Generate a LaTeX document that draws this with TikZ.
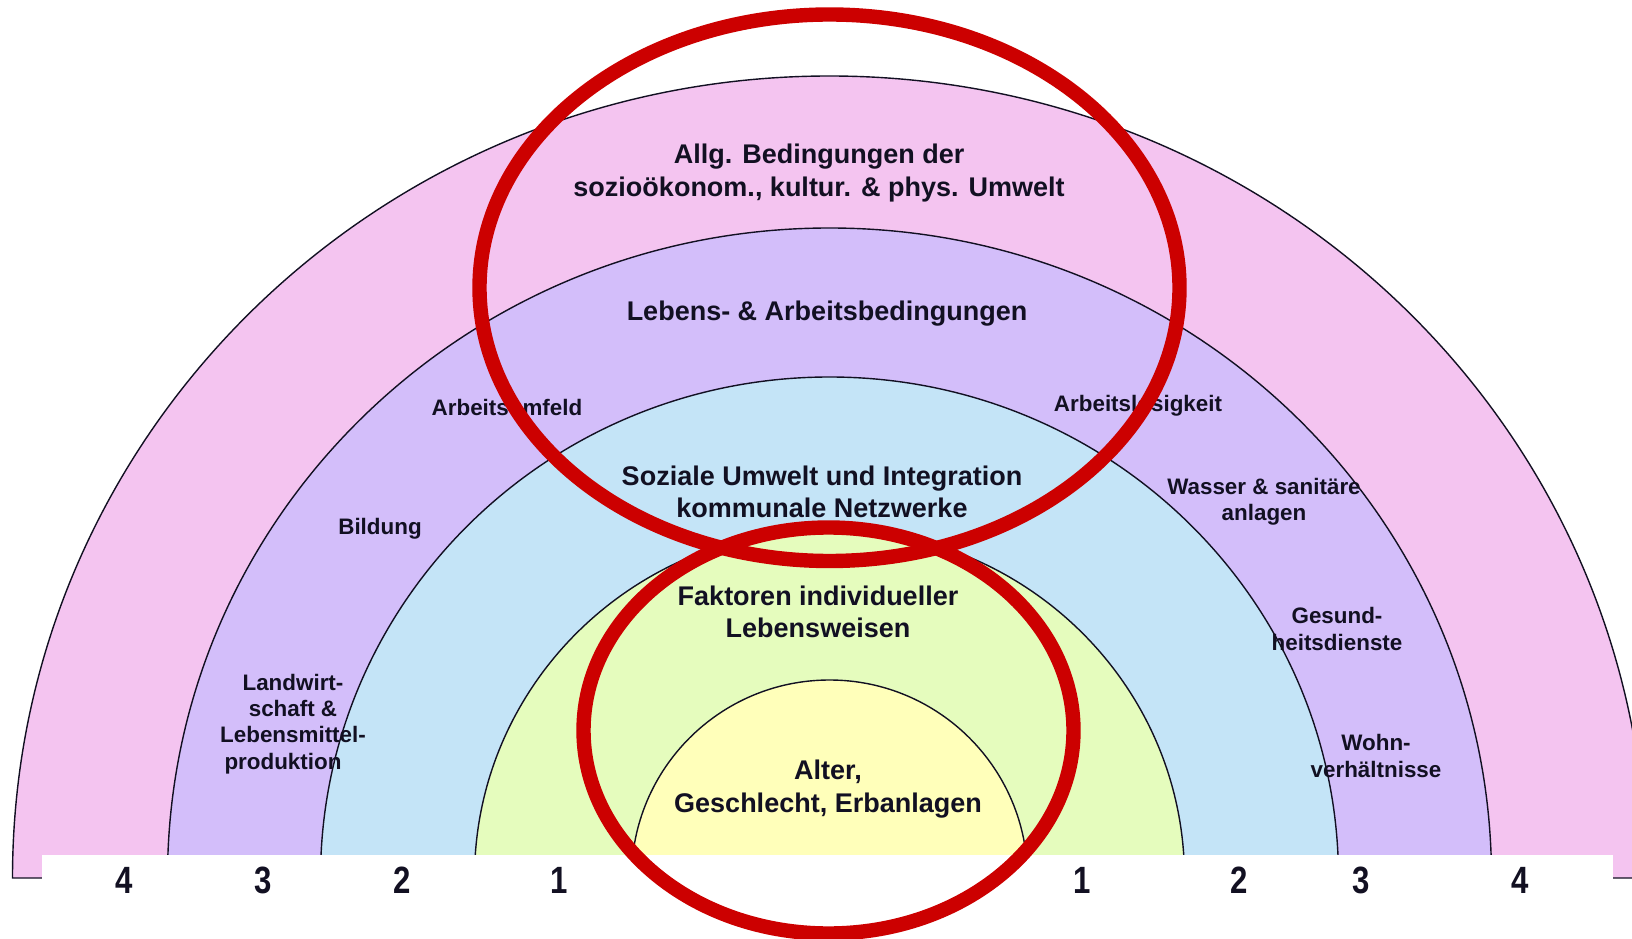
\documentclass[tikz,border=0pt]{standalone}
\usepackage{fontspec}
\setmainfont{Liberation Sans}
\newfontfamily\narrowfont[FakeStretch=0.82]{Liberation Sans}
\usepackage{xcolor}
\usepackage{tikz}

\definecolor{ringPink}{RGB}{244,196,240}
\definecolor{ringLila}{RGB}{211,190,250}
\definecolor{ringBlue}{RGB}{196,228,247}
\definecolor{ringGreen}{RGB}{229,252,189}
\definecolor{ringYellow}{RGB}{255,255,186}
\definecolor{markRed}{RGB}{204,0,0}
\definecolor{txtDark}{RGB}{18,16,34}

\begin{document}
\begin{tikzpicture}[
  x=0.5pt, y=0.5pt,
  % ring halves
  ring/.style={draw=txtDark, line width=0.7pt},
  % red highlight ellipses
  redmark/.style={draw=markRed, line width=7.2pt},
  % labels
  bigtxt/.style={font=\fontsize{13.5}{16.2}\selectfont\bfseries,
                 text=txtDark, align=center, inner sep=0pt},
  smalltxt/.style={font=\fontsize{11.2}{13.2}\selectfont\bfseries,
                   text=txtDark, align=center, inner sep=0pt},
  numtxt/.style={font=\narrowfont\fontsize{19}{19}\selectfont\bfseries,
                 text=txtDark, inner sep=0pt},
]

% ── Canvas ───────────────────────────────────────────────────────────────
\useasboundingbox (0,0) rectangle (1632,938);
\clip (0,0) rectangle (1632,938);
\fill[white] (0,0) rectangle (1632,938);

% ── Centre of the rings ──────────────────────────────────────────────────
\def\cx{829.5}
\def\cy{60}

% ── Rings, outside in ────────────────────────────────────────────────────
\filldraw[ring, fill=ringPink]   (\cx-817,\cy) arc[start angle=180, end angle=0, x radius=817, y radius=802] -- cycle;
\filldraw[ring, fill=ringLila]   (\cx-662,\cy) arc[start angle=180, end angle=0, x radius=662, y radius=650] -- cycle;
\filldraw[ring, fill=ringBlue]   (\cx-509,\cy) arc[start angle=180, end angle=0, x radius=509, y radius=501] -- cycle;
\filldraw[ring, fill=ringGreen]  (\cx-355,\cy) arc[start angle=180, end angle=0, x radius=355, y radius=349] -- cycle;
\filldraw[ring, fill=ringYellow] (\cx-198,\cy) arc[start angle=180, end angle=0, x radius=198, y radius=198] -- cycle;

% white strip for the ring numbers
\fill[white] (42,0) rectangle (1613,83);

% ── Ring labels ──────────────────────────────────────────────────────────
\node[bigtxt] (allg) at (819,765)
  {Allg. Bedingungen der\\sozioökonom., kultur. \& phys. Umwelt};
\node[bigtxt] (lebens) at (827,624) {Lebens- \& Arbeitsbedingungen};
\node[bigtxt] (soziale) at (822,446)
  {Soziale Umwelt und Integration\\kommunale Netzwerke};
\node[bigtxt] (faktoren) at (818,326)
  {Faktoren individueller\\Lebensweisen};
\node[bigtxt] (alter) at (828,149) {Alter,\\Geschlecht, Erbanlagen};

% sectors of ring 3
\node[smalltxt] (umfeld)    at (507,531)  {Arbeitsumfeld};
\node[smalltxt] (losigkeit) at (1138,532) {Arbeitslosigkeit};
\node[smalltxt] (bildung)   at (380,409)  {Bildung};
\node[smalltxt] (wasser)    at (1264,436) {Wasser \& sanitäre\\anlagen};
\node[smalltxt] (gesund)    at (1337,309) {Gesund-\\heitsdienste};
\node[smalltxt] (landwirt)  at (293,214)
  {Landwirt-\\schaft \&\\Lebensmittel-\\produktion\hspace*{10pt}};
\node[smalltxt] (wohn)      at (1376,182) {Wohn-\\verhältnisse};

% ── Ring numbers ─────────────────────────────────────────────────────────
\node[numtxt] (nL4) at (124,58)  {4};
\node[numtxt] (nL3) at (263,58)  {3};
\node[numtxt] (nL2) at (402,58)  {2};
\node[numtxt] (nL1) at (559,58)  {1};
\node[numtxt] (nR1) at (1082,58) {1};
\node[numtxt] (nR2) at (1239,58) {2};
\node[numtxt] (nR3) at (1361,58) {3};
\node[numtxt] (nR4) at (1520,58) {4};

% ── Red highlights ───────────────────────────────────────────────────────
\draw[redmark] (829.5,650.25) ellipse[x radius=350, y radius=273.25];
\draw[redmark] (828.5,207.5) ellipse[x radius=245, y radius=203];

\end{tikzpicture}
\end{document}
